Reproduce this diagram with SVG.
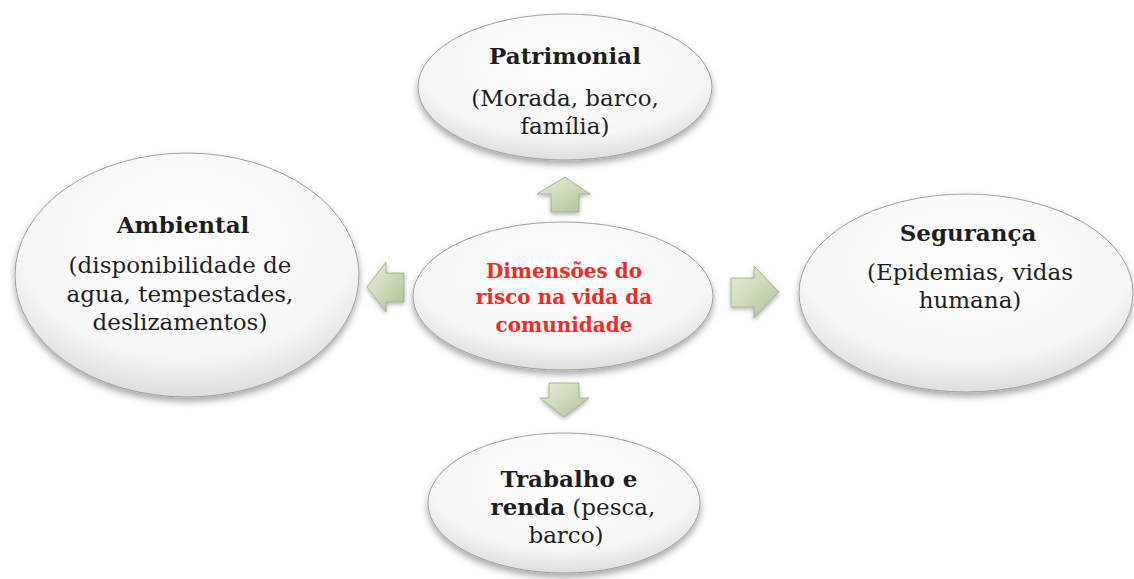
<svg xmlns="http://www.w3.org/2000/svg" width="1134" height="579" viewBox="0 0 1134 579">
<defs>
<radialGradient id="eg" cx="0.5" cy="0.35" r="0.7">
<stop offset="0" stop-color="#ffffff"/>
<stop offset="0.7" stop-color="#f6f6f6"/>
<stop offset="1" stop-color="#d6d6d6"/>
</radialGradient>
<linearGradient id="ag" x1="0" y1="0" x2="1" y2="1">
<stop offset="0" stop-color="#e6eddb"/>
<stop offset="0.5" stop-color="#cdd9b8"/>
<stop offset="1" stop-color="#aebf92"/>
</linearGradient>
<filter id="sh" x="-10%" y="-10%" width="120%" height="125%">
<feDropShadow dx="0" dy="4" stdDeviation="3.5" flood-color="#000" flood-opacity="0.35"/>
</filter>
<filter id="ash" x="-30%" y="-30%" width="160%" height="160%">
<feDropShadow dx="0" dy="2" stdDeviation="2" flood-color="#000" flood-opacity="0.3"/>
</filter>
</defs>
<style>
.node ellipse{fill:url(#eg);stroke:#a0a0a0;stroke-width:1;filter:url(#sh)}
.t{font-family:"DejaVu Serif","Liberation Serif",serif;font-size:23px;fill:#1e1e1e;text-anchor:middle}
.b{font-weight:bold}
.c{font-family:"DejaVu Serif","Liberation Serif",serif;font-size:20px;font-weight:bold;fill:#f42a22;text-anchor:middle}
.arr{fill:url(#ag);stroke:#9aab7e;stroke-width:0.8;filter:url(#ash)}
</style>
<rect width="1134" height="579" fill="#ffffff"/>
<g id="connectors">
<polygon class="arr" points="565,177 590,194 579,194 579,212 551,212 551,194 537,194"/>
<polygon class="arr" points="549,383 579,383 579,398 589,398 564,417 540,398 549,398"/>
<polygon class="arr" points="367,287 386,262 386,273 404,273 404,302 386,302 386,312"/>
<polygon class="arr" points="731,278 754,278 754,266 779,292 754,318 754,307 731,307"/>
</g>
<g id="node-patrimonial" class="node">
<ellipse cx="565" cy="87" rx="147" ry="73"/>
<text class="t b" x="565" y="64">Patrimonial</text>
<text class="t" x="565" y="106">(Morada, barco,</text>
<text class="t" x="565" y="134">família)</text>
</g>
<g id="node-center" class="node">
<ellipse cx="563" cy="296" rx="150" ry="74"/>
<text class="c" x="564" y="278">Dimensões do</text>
<text class="c" x="564" y="304">risco na vida da</text>
<text class="c" x="564" y="332">comunidade</text>
</g>
<g id="node-ambiental" class="node">
<ellipse cx="187" cy="275" rx="172" ry="122"/>
<text class="t b" x="183" y="233">Ambiental</text>
<text class="t" x="180" y="273">(disponibilidade de</text>
<text class="t" x="180" y="302">agua, tempestades,</text>
<text class="t" x="180" y="330">deslizamentos)</text>
</g>
<g id="node-seguranca" class="node">
<ellipse cx="966" cy="293" rx="167" ry="99"/>
<text class="t b" x="968" y="241">Segurança</text>
<text class="t" x="970" y="280">(Epidemias, vidas</text>
<text class="t" x="970" y="308">humana)</text>
</g>
<g id="node-trabalho" class="node">
<ellipse cx="564" cy="503" rx="136" ry="70"/>
<text class="t b" x="569" y="487">Trabalho e</text>
<text class="t" x="573" y="515"><tspan class="b">renda</tspan> (pesca,</text>
<text class="t" x="566" y="543">barco)</text>
</g>
</svg>
